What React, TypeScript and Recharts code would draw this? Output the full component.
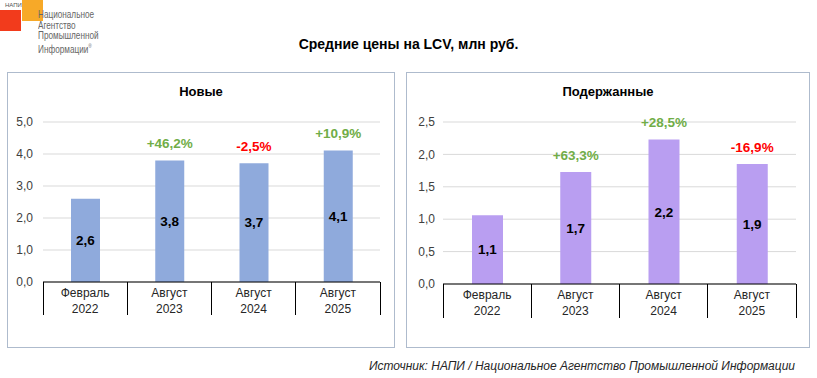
import React from 'react';
import { BarChart, Bar, XAxis, YAxis, CartesianGrid, LabelList } from 'recharts';

// categories (two-line labels)
const months = ['Февраль', 'Август', 'Август', 'Август'];
const years = ['2022', '2023', '2024', '2025'];

// average prices, mln rub.
const newPrices = [2.6, 3.8, 3.71, 4.11];
const usedPrices = [1.06, 1.73, 2.23, 1.85];

// change vs previous period, %
const newChange = [null, 46.2, -2.5, 10.9];
const usedChange = [null, 63.3, 28.5, -16.9];

const newTicks = [0, 1, 2, 3, 4, 5];
const usedTicks = [0, 0.5, 1, 1.5, 2, 2.5];

const FONT = 'Arial, "Liberation Sans", sans-serif';

const fmt1 = (v: number) => v.toFixed(1).replace('.', ',');
const fmtPct = (v: number) => (v > 0 ? '+' : '') + v.toFixed(1).replace('.', ',') + '%';

const buildRows = (vals: number[], chg: (number | null)[]) =>
  vals.map((v, i) => ({ name: months[i] + ' ' + years[i], month: months[i], year: years[i], value: v, change: chg[i] }));

const CatTick = (props: any) => {
  const { x, y, index, band, count, lineH } = props;
  const m = months[index];
  const yr = years[index];
  const left = x - band / 2;
  const right = x + band / 2;
  return (
    <g>
      <line x1={left} x2={left} y1={y} y2={y + lineH} stroke="#000" strokeWidth={1} shapeRendering="crispEdges" />
      {index === count - 1 && (
        <line x1={right} x2={right} y1={y} y2={y + lineH} stroke="#000" strokeWidth={1} shapeRendering="crispEdges" />
      )}
      <text x={x} y={y + 15} textAnchor="middle" fontSize={12} fill="#262626" fontFamily={FONT}>{m}</text>
      <text x={x} y={y + 31} textAnchor="middle" fontSize={12} fill="#262626" fontFamily={FONT}>{yr}</text>
    </g>
  );
};

const PctLabel = (props: any) => {
  const { x, y, width, value } = props;
  if (value === null || value === undefined) return null;
  return (
    <text x={x + width / 2} y={y - 12} textAnchor="middle" fontSize={13.5} fontWeight="bold"
      fill={value >= 0 ? '#70AD47' : '#FF0000'} fontFamily={FONT}>
      {fmtPct(value)}
    </text>
  );
};

interface PanelProps {
  left: number;
  width: number;
  title: string;
  rows: any[];
  ticks: number[];
  color: string;
  yWidth: number;
  mRight: number;
  mBottom: number;
  xHeight: number;
  barSize: number;
  tickMargin: number;
}

const Panel = (p: PanelProps) => {
  const chartW = p.width - 2;
  const plotW = chartW - p.yWidth - p.mRight;
  const band = plotW / p.rows.length;
  return (
    <div style={{ position: 'absolute', left: p.left, top: 72, width: p.width, height: 276, border: '1px solid #AEBBCD', boxSizing: 'border-box' }}>
      <div style={{ position: 'absolute', left: 0, top: 11, width: '100%', textAlign: 'center', fontSize: 13, fontWeight: 'bold', fontFamily: FONT, color: '#000' }}>
        {p.title}
      </div>
      <div style={{ position: 'absolute', left: 0, top: 0 }}>
        <BarChart width={chartW} height={274} data={p.rows}
          margin={{ top: 49, right: p.mRight, left: 0, bottom: p.mBottom }}>
          <CartesianGrid vertical={false} stroke="#D9D9D9" />
          <XAxis dataKey="name" interval={0} height={p.xHeight} tickSize={0} tickMargin={0} tickLine={false}
            axisLine={{ stroke: '#000' }}
            tick={(t: any) => <CatTick {...t} band={band} count={p.rows.length} lineH={p.xHeight} />} />
          <YAxis width={p.yWidth} domain={[p.ticks[0], p.ticks[p.ticks.length - 1]]} ticks={p.ticks}
            axisLine={false} tickLine={false} tickMargin={p.tickMargin} tickFormatter={fmt1}
            tick={{ fontSize: 12, fill: '#404040', fontFamily: FONT }} />
          <Bar dataKey="value" fill={p.color} barSize={p.barSize} isAnimationActive={false}>
            <LabelList dataKey="value" position="center" formatter={(v: any) => fmt1(Number(v))}
              style={{ fontSize: 13.5, fontWeight: 'bold', fill: '#000', fontFamily: FONT }} />
            <LabelList dataKey="change" content={<PctLabel />} />
          </Bar>
        </BarChart>
      </div>
    </div>
  );
};

const Logo = () => (
  <div style={{ position: 'absolute', left: 0, top: 0, width: 110, height: 60 }}>
    <div style={{ position: 'absolute', left: 0, top: 10, width: 21, height: 21, background: '#F23B1C' }} />
    <div style={{ position: 'absolute', left: 22, top: 0, width: 21, height: 21, background: '#F7A928' }} />
    <div style={{ position: 'absolute', left: 5, top: 2, fontSize: 6, fontFamily: FONT, color: '#555' }}>НАПИ</div>
    <div style={{ position: 'absolute', left: 38, top: 9, fontSize: 10.5, lineHeight: '10.7px', fontFamily: FONT, color: '#666', transform: 'scaleX(0.78)', transformOrigin: 'left top', whiteSpace: 'nowrap' }}>
      <div>Национальное</div>
      <div>Агентство</div>
      <div>Промышленной</div>
      <div>Информации<sup style={{ fontSize: 6 }}>®</sup></div>
    </div>
  </div>
);

export default function App() {
  const newRows = buildRows(newPrices, newChange);
  const usedRows = buildRows(usedPrices, usedChange);
  return (
    <div style={{ position: 'absolute', left: 0, top: 0, width: 817, height: 378, background: '#fff', overflow: 'hidden', fontFamily: FONT }}>
      <Logo />
      <div style={{ position: 'absolute', left: 0, top: 36, width: 817, textAlign: 'center', fontSize: 14, fontWeight: 'bold', color: '#000' }}>
        Средние цены на LCV, млн руб.
      </div>
      <Panel left={7} width={388} title="Новые" rows={newRows} ticks={newTicks} color="#8FAADC"
        yWidth={35} mRight={14} mBottom={32} xHeight={33} barSize={29} tickMargin={4} />
      <Panel left={406} width={404} title="Подержанные" rows={usedRows} ticks={usedTicks} color="#B99EF1"
        yWidth={36} mRight={13} mBottom={29} xHeight={34} barSize={31} tickMargin={2} />
      <div style={{ position: 'absolute', right: 22, top: 359, fontSize: 12, fontStyle: 'italic', color: '#262626', whiteSpace: 'nowrap' }}>
        Источник: НАПИ / Национальное Агентство Промышленной Информации
      </div>
    </div>
  );
}
